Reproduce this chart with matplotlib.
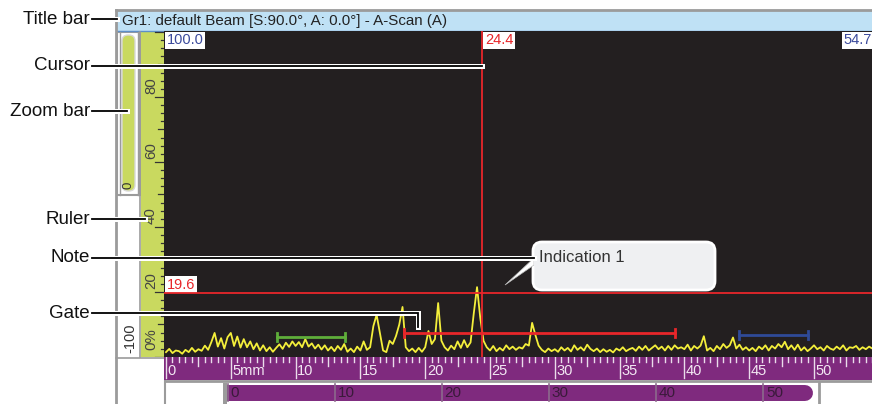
import numpy as np
import matplotlib.pyplot as plt
from matplotlib.patches import Rectangle, FancyBboxPatch, Polygon
import matplotlib.patheffects as pe

plt.rcParams['font.family'] = ['Liberation Sans', 'DejaVu Sans']

W, H = 872, 404

# ---- data ----
# A-scan amplitude (% full screen height), one sample every 0.25 mm
depth_step = 0.25
amplitude = [
    1.5, 2.5, 1.2, 2.0,   1.8, 1.0, 2.2, 1.5,   2.8, 1.6, 2.4, 1.9,
    3.5, 2.2, 4.6, 7.4,   3.2, 5.8, 2.6, 6.1,   7.4, 3.4, 6.3, 2.9,
    5.5, 3.0, 4.8, 2.4,   4.2, 2.0, 3.6, 1.8,   3.0, 1.6, 2.8, 3.9,
    2.5, 4.4, 3.1, 4.8,   3.4, 4.6, 3.0, 5.5,   3.2, 4.2, 2.6, 3.8,
    2.3, 3.6, 2.0, 3.1,   1.8, 3.4, 2.2, 4.0,   1.6, 2.6, 1.5, 3.2,
    2.0, 4.8, 2.2, 3.0,   9.5, 13.0, 7.5, 2.0,  1.5, 5.0, 4.0, 6.5,
    10.0, 15.4, 3.0, 1.8, 2.6, 1.5, 2.8, 1.6,   3.0, 8.0, 4.0, 5.5,
    16.6, 5.0, 3.0, 2.0,  3.5, 2.4, 4.8, 2.8,   5.2, 3.0, 4.5, 13.5,
    21.5, 12.0, 5.0, 3.0, 2.0, 3.4, 1.8, 2.8,   2.0, 3.6, 2.4, 3.2,
    2.2, 3.0, 2.6, 4.0,   3.5, 10.5, 6.8, 3.5,  2.2, 1.5, 2.6, 1.8,
    2.4, 1.6, 3.0, 2.0,   2.8, 1.7, 3.6, 2.2,   3.0, 2.0, 3.8, 2.5,
    1.8, 2.6, 1.5, 2.4,   1.6, 2.2, 1.4, 2.6,   2.0, 3.0, 1.8, 2.4,
    2.8, 1.9, 3.2, 2.2,   3.4, 2.0, 2.8, 3.6,   2.4, 3.2, 2.0, 3.4,
    2.2, 3.6, 2.6, 3.0,   2.4, 3.8, 2.0, 3.4,   2.6, 3.5, 6.4, 2.0,
    2.8, 1.8, 3.4, 2.4,   4.0, 2.8, 3.6, 6.0,   2.6, 3.8, 2.2, 3.0,
    2.0, 2.8, 1.8, 3.2,   2.4, 3.6, 2.0, 3.4,   2.6, 4.0, 3.0, 4.7,
    2.4, 3.6, 2.2, 3.8,   2.0, 3.0, 1.8, 2.6,   3.6, 2.4, 3.0, 2.0,
    3.4, 2.6, 2.2, 3.2,   2.4, 3.6, 2.0, 3.0,   2.8, 3.4, 2.2, 3.0,
    2.4, 3.2, 2.6,
]
depth = np.arange(len(amplitude)) * depth_step

gate_start = [18.4, 8.6, 44.2]
gate_end = [39.3, 13.8, 49.5]
gate_level = [7.4, 6.2, 6.8]
gate_colors = ["#e8262a", "#5fae3a", "#2f4a98"]

cursor_pos = 24.4
threshold = 19.6
range_start, range_end = 0.0, 54.7

ruler_major = [0, 5, 10, 15, 20, 25, 30, 35, 40, 45, 50]
ruler_labels = ["0", "5mm", "10", "15", "20", "25", "30", "35", "40", "45", "50"]
overview_ticks = [0, 10, 20, 30, 40, 50]
amp_labels = {80: "80", 60: "60", 40: "40", 20: "20", 0: "0%"}

title = "Gr1: default Beam [S:90.0°, A: 0.0°] - A-Scan (A)"
callout_labels = ["Title bar", "Cursor", "Zoom bar", "Ruler", "Note", "Gate"]

# ---- layout (pixels) ----
callout_y = [19, 66, 111, 219, 258, 313]
callout_end = [117, 482, 127, 145, 534, 418]

BLACK = "#231f20"
YELLOW = "#f4ef3b"
RED = "#e8262a"
BLUE = "#3b4a9c"
PURPLE = "#7f2a7e"
LIME = "#c9d95f"
GRAY = "#9b9b9b"


def rect(x0, y0, x1, y1):
    return [x0 / W, 1 - y1 / H, (x1 - x0) / W, (y1 - y0) / H]


fig = plt.figure(figsize=(W / 100, H / 100), dpi=100)

# background / frame in pixel coordinates
bg = fig.add_axes([0, 0, 1, 1])
bg.set_xlim(0, W)
bg.set_ylim(H, 0)
bg.axis("off")
bg.add_patch(Rectangle((117, 11), W - 117, 20, fc="#bfe1f5", ec="none"))
bg.plot([116, W], [10, 10], color=GRAY, lw=2)
bg.plot([117, W], [31, 31], color="#5d8fc9", lw=1)
bg.plot([116, 116], [10, H], color=GRAY, lw=2)
bg.text(122, 21.5, title, fontsize=10.9, color="#222222", va="center", ha="left")
# zoom bar column
bg.add_patch(Rectangle((117, 32), 23, 163, fc="white", ec=GRAY, lw=1.5))
bg.plot([119.5, 119.5], [32, 195], color=GRAY, lw=1)
bg.plot([137.5, 137.5], [32, 195], color=GRAY, lw=1)
bg.add_patch(FancyBboxPatch((122, 35), 13, 156, boxstyle="round,pad=0,rounding_size=6",
                            fc=LIME, ec="#d8d8d8", lw=1))
bg.text(128.5, 189, "0", rotation=90, fontsize=9.5, color="#333333", ha="center", va="bottom")
bg.plot([140, 140], [32, 357], color=GRAY, lw=1.2)
bg.text(130, 353, "-100", rotation=90, fontsize=10.5, color="#333333", ha="center", va="bottom")
bg.plot([116, 165], [357.5, 357.5], color=GRAY, lw=1.2)
# ruler column
bg.add_patch(Rectangle((141, 31), 23, 326, fc=LIME, ec="none"))
# bottom frame
bg.plot([165, W], [381, 381], color=GRAY, lw=2)
bg.plot([165, 165], [381, H], color=GRAY, lw=1.5)
bg.add_patch(Rectangle((223, 383), 4, H - 383, fc=GRAY, ec="none"))
bg.plot([819, 819], [383, H], color=GRAY, lw=2)

# amplitude ruler
ra = fig.add_axes(rect(141, 31, 164, 357))
ra.set_xlim(141, 164)
ra.set_ylim(0, 100.3)
ra.axis("off")
for lv in np.arange(0, 101, 2.5):
    if lv % 20 == 0:
        ln = 9
    elif lv % 10 == 0:
        ln = 6
    else:
        ln = 3.5
    ra.plot([164 - ln, 164], [lv, lv], color="#333333", lw=0.9)
for lv, lab in amp_labels.items():
    ra.text(151, lv + (2 if lv == 0 else 0.8), lab, rotation=90, rotation_mode="anchor",
            fontsize=10.8, color="#444444", ha="left", va="center")

# A-scan
ax = fig.add_axes(rect(164, 31, 872, 357))
ax.set_facecolor(BLACK)
ax.set_xlim(-2 / 12.96, 706 / 12.96)
ax.set_ylim(0, 100.3)
ax.set_xticks([])
ax.set_yticks([])
for s in ax.spines.values():
    s.set_visible(False)
ax.plot(depth, amplitude, color=YELLOW, lw=1.3, zorder=3)
for g0, g1, lv, c in zip(gate_start, gate_end, gate_level, gate_colors):
    ax.plot([g0, g1], [lv, lv], color=c, lw=2, zorder=4)
    ax.plot([g0, g0], [lv - 1.3, lv + 1.3], color=c, lw=2, zorder=4)
    ax.plot([g1, g1], [lv - 1.3, lv + 1.3], color=c, lw=2, zorder=4)
ax.axhline(threshold, color=RED, lw=1.3, zorder=4)
ax.axvline(cursor_pos, color=RED, lw=1.3, zorder=5)
box = dict(fc="white", ec="none", pad=1.2)
ax.text(0.05, 97.4, f"{100.0:.1f}", color=BLUE, fontsize=10.5, va="center", ha="left", bbox=box)
ax.text(cursor_pos + 0.2, 97.4, f"{cursor_pos:.1f}", color=RED, fontsize=10.5, va="center",
        ha="left", bbox=box, zorder=6)
ax.text(52.3, 97.4, f"{range_end:.1f}", color=BLUE, fontsize=10.5, va="center", ha="left",
        bbox=box, clip_on=True)
ax.text(0.05, threshold + 2.6, f"{threshold:.1f}", color=RED, fontsize=10.5, va="center",
        ha="left", bbox=box)

# depth ruler
ru = fig.add_axes(rect(164, 357, 872, 380))
ru.set_facecolor(PURPLE)
ru.set_xlim(-2 / 12.96, 706 / 12.96)
ru.set_ylim(0, 1)
ru.set_xticks([])
ru.set_yticks([])
for s in ru.spines.values():
    s.set_visible(False)
tick_c = "#eadcea"
for v in np.arange(0, 54.6, 0.5):
    if v % 5 == 0:
        continue
    ln = 0.38 if v % 2.5 == 0 else 0.2
    ru.plot([v, v], [1 - ln, 1], color=tick_c, lw=1)
for v, lab in zip(ruler_major, ruler_labels):
    ru.plot([v, v], [0.08, 1], color=tick_c, lw=1)
    ru.text(v + 0.12, 0.1, lab, color="#f3e8f3", fontsize=10.5, ha="left", va="bottom")

# overview bar
ov = fig.add_axes(rect(227, 383, 872, 402))
ov.set_xlim(-1 / 10.72, 645 / 10.72)
ov.set_ylim(0, 1)
ov.axis("off")
ov.plot([range_start, range_end - 0.75], [0.5, 0.5], color=PURPLE, lw=11.5,
        solid_capstyle="round")
ov.add_patch(Rectangle((range_start, 0.08), 1.0, 0.84, fc=PURPLE, ec="none"))
for v in overview_ticks:
    ov.plot([v, v], [0.05, 0.95], color="#8c6a8c", lw=1.2)
    ov.text(v + 0.25, 0.45, str(v), color="#3a1a3a", fontsize=11, ha="left", va="center")

# overlay: note and callouts
top = fig.add_axes([0, 0, 1, 1])
top.set_xlim(0, W)
top.set_ylim(H, 0)
top.axis("off")
top.add_patch(FancyBboxPatch((533, 242), 182, 48, boxstyle="round,pad=0,rounding_size=9",
                             fc="#eff0f2", ec="white", lw=2))
top.add_patch(Polygon([(534, 258), (534, 265), (505, 285)], closed=True, fc="white",
                      ec="#bbbbbb", lw=0.5))
top.add_patch(Rectangle((533.5, 257.5), 3, 8, fc="#eff0f2", ec="none"))
top.text(539, 258, "Indication 1", fontsize=12, color="#333333", ha="left", va="center")

stroke = [pe.withStroke(linewidth=3.6, foreground="white")]
for lab, y, xe in zip(callout_labels, callout_y, callout_end):
    top.text(90, y, lab, fontsize=13.5, color="#111111", ha="right", va="center")
    if lab == "Gate":
        xs, ys = [92, xe, xe], [y, y, y + 14]
    else:
        xs, ys = [92, xe], [y, y]
    top.plot(xs, ys, color="black", lw=1.3, path_effects=stroke, solid_joinstyle="miter")

fig.savefig("out.png", dpi=100)
